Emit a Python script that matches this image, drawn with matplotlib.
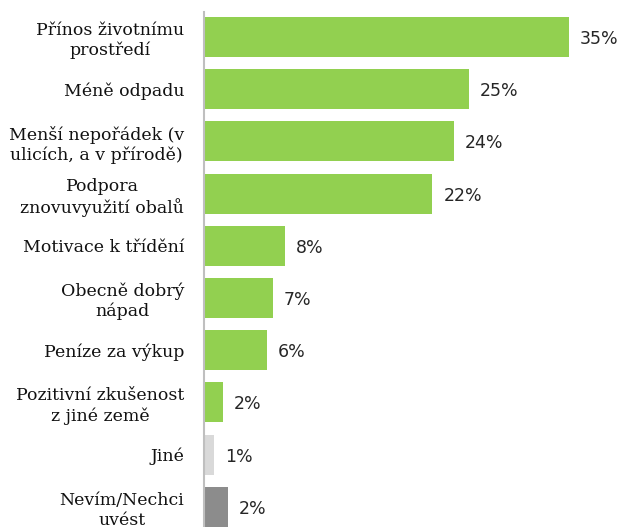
import matplotlib.pyplot as plt

# Categories (top to bottom) and values
categories = [
    "Přínos životnímu\nprostředí",
    "Méně odpadu",
    "Menší nepořádek (v\nulicích, a v přírodě)",
    "Podpora\nznovuvyužití obalů",
    "Motivace k třídění",
    "Obecně dobrý\nnápad",
    "Peníze za výkup",
    "Pozitivní zkušenost\nz jiné země",
    "Jiné",
    "Nevím/Nechci\nuvést",
]
values = [35.0, 25.4, 24.0, 21.9, 7.8, 6.6, 6.0, 1.8, 1.0, 2.3]
value_labels = ["35%", "25%", "24%", "22%", "8%", "7%", "6%", "2%", "1%", "2%"]
colors = ["#92D050"] * 8 + ["#D9D9D9", "#8C8C8C"]

fig = plt.figure(figsize=(6.25, 5.27), dpi=100)
ax = fig.add_axes([204 / 625, 0, 417 / 625, 515 / 527])

pos = list(range(len(categories)))
ax.barh(pos, values, height=0.77, color=colors)
ax.set_ylim(9.387, -0.479)
ax.set_xlim(0, 40)

# value labels
for p, v, t in zip(pos, values, value_labels):
    ax.text(v + 1.05, p + 0.04, t, va="center", ha="left", fontsize=12.5,
            family="DejaVu Sans", color="#262626")

# category labels
ax.set_yticks(pos)
ax.set_yticklabels(categories, fontsize=12.5, family="DejaVu Serif",
                   color="#111111", multialignment="center", linespacing=1.22)
ax.tick_params(axis="y", length=0, pad=14.4)
ax.set_xticks([])

for s in ["top", "right", "bottom"]:
    ax.spines[s].set_visible(False)
ax.spines["left"].set_color("#BFBFBF")
ax.spines["left"].set_linewidth(1.5)

fig.savefig("out.png", dpi=100)
